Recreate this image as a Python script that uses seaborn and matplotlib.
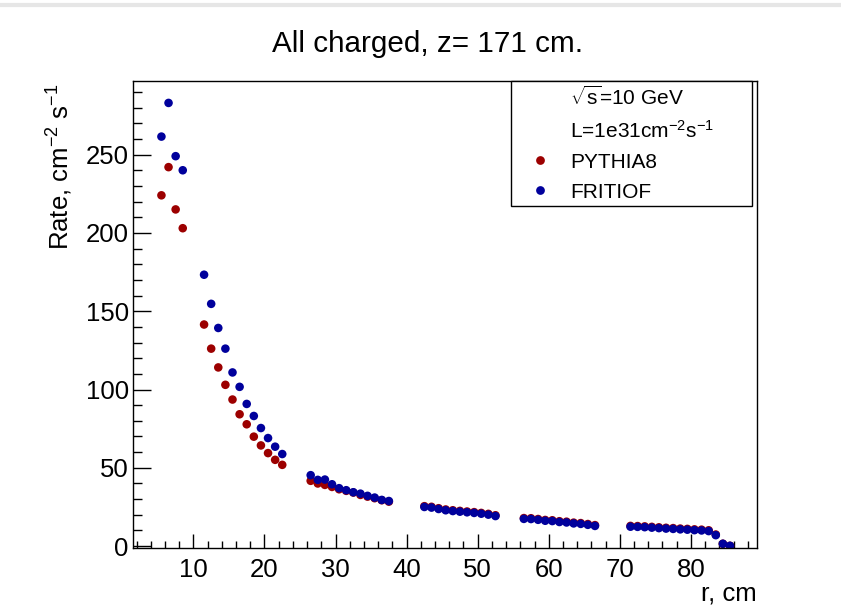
import numpy as np
import pandas as pd
import matplotlib
matplotlib.use("Agg")
import matplotlib.pyplot as plt
from matplotlib.lines import Line2D
from matplotlib.ticker import MultipleLocator
import seaborn as sns

# ---- data ----
r_cm = [5.5, 6.5, 7.5, 8.5,
        11.5, 12.5, 13.5, 14.5, 15.5, 16.5, 17.5, 18.5, 19.5, 20.5, 21.5, 22.5,
        26.5, 27.5, 28.5, 29.5, 30.5, 31.5, 32.5, 33.5, 34.5, 35.5, 36.5, 37.5,
        42.5, 43.5, 44.5, 45.5, 46.5, 47.5, 48.5, 49.5, 50.5, 51.5, 52.5,
        56.5, 57.5, 58.5, 59.5, 60.5, 61.5, 62.5, 63.5, 64.5, 65.5, 66.5,
        71.5, 72.5, 73.5, 74.5, 75.5, 76.5, 77.5, 78.5, 79.5, 80.5, 81.5, 82.5,
        83.5, 84.5, 85.5]

rate_pythia8 = [224, 242, 215, 203,
                141.5, 126.1, 114.1, 103.0, 93.6, 84.2, 77.8, 69.9, 64.3, 59.4, 55.1, 51.9,
                41.7, 40.0, 39.1, 37.8, 36.3, 35.3, 34.2, 32.7, 31.6, 30.6, 29.3, 28.4,
                25.5, 25.1, 24.2, 23.4, 22.9, 22.5, 22.1, 21.7, 21.2, 20.6, 19.7,
                17.9, 17.8, 17.3, 16.7, 16.5, 15.9, 15.6, 15.0, 14.7, 14.1, 13.4,
                12.9, 12.8, 12.6, 12.3, 12.0, 11.7, 11.5, 11.2, 11.0, 10.7, 10.5, 10.1,
                7.4, 1.5, 0.2]

rate_fritiof = [261.5, 283, 249, 240,
                173.3, 154.7, 139.3, 126.1, 110.9, 101.7, 90.8, 83.1, 75.4, 69.0, 63.5, 58.8,
                45.3, 42.3, 42.5, 39.5, 37.0, 35.7, 34.4, 33.5, 32.1, 31.0, 29.5, 28.8,
                25.0, 24.6, 23.7, 22.9, 22.4, 22.0, 21.6, 21.2, 20.7, 20.1, 19.2,
                17.4, 17.3, 16.8, 16.2, 16.0, 15.4, 15.1, 14.5, 14.2, 13.6, 12.9,
                12.4, 12.3, 12.1, 11.8, 11.5, 11.2, 11.0, 10.7, 10.5, 10.2, 10.0, 9.6,
                7.0, 1.5, 0.2]

models = ["PYTHIA8", "FRITIOF"]
colors = {"PYTHIA8": "#9c0000", "FRITIOF": "#00009c"}

df = pd.DataFrame({
    "r": r_cm + r_cm,
    "rate": rate_pythia8 + rate_fritiof,
    "model": ["PYTHIA8"] * len(r_cm) + ["FRITIOF"] * len(r_cm),
})

# ---- style ----
sns.set_theme(style="ticks")
plt.rcParams["font.family"] = ["Liberation Sans", "DejaVu Sans"]
plt.rcParams["mathtext.fontset"] = "custom"
plt.rcParams["mathtext.rm"] = "Liberation Sans"
plt.rcParams["mathtext.it"] = "Liberation Sans:italic"
plt.rcParams["mathtext.bf"] = "Liberation Sans:bold"
for k in ["text.color", "axes.labelcolor", "xtick.color", "ytick.color",
          "axes.edgecolor"]:
    plt.rcParams[k] = "black"

fig = plt.figure(figsize=(8.41, 6.16), dpi=100)
ax = fig.add_axes([133 / 841, 1 - 548 / 616, 624 / 841, 467 / 616])

sns.scatterplot(data=df, x="r", y="rate", hue="model", hue_order=models,
                palette=colors, s=38, edgecolor="none", linewidth=0,
                legend=False, ax=ax)

ax.set_xlim(1.5, 89.3)
ax.set_ylim(-1.2, 297)

ax.xaxis.set_major_locator(MultipleLocator(10))
ax.xaxis.set_minor_locator(MultipleLocator(2))
ax.yaxis.set_major_locator(MultipleLocator(50))
ax.yaxis.set_minor_locator(MultipleLocator(10))
ax.set_xticks([10, 20, 30, 40, 50, 60, 70, 80])

ax.tick_params(axis="both", which="both", direction="in", colors="black",
               labelsize=18.5, top=False, right=False, bottom=True, left=True)
ax.tick_params(axis="y", which="major", length=13, width=1, pad=3)
ax.tick_params(axis="y", which="minor", length=6.5, width=1)
ax.tick_params(axis="x", which="major", length=10, width=1, pad=7)
ax.tick_params(axis="x", which="minor", length=5, width=1)

for sp in ax.spines.values():
    sp.set_visible(True)
    sp.set_color("black")
    sp.set_linewidth(1.0)

ax.set_xlabel("r, cm", fontsize=18.5, loc="right", labelpad=0)
ax.set_ylabel(r"Rate, cm$^{\mathrm{-2}}$ s$^{\mathrm{-1}}$", fontsize=18.5, loc="top")
ax.yaxis.set_label_coords(-0.093, 0.995)

fig.text(428 / 841, 1 - 44 / 616, "All charged, z= 171 cm.", fontsize=21.3,
         ha="center", va="center")

# legend
handles = [
    Line2D([], [], linestyle="none", marker=None),
    Line2D([], [], linestyle="none", marker=None),
    Line2D([], [], linestyle="none", marker="o", markersize=6.3,
           markerfacecolor=colors["PYTHIA8"], markeredgecolor="none"),
    Line2D([], [], linestyle="none", marker="o", markersize=6.3,
           markerfacecolor=colors["FRITIOF"], markeredgecolor="none"),
]
labels = [r"$\sqrt{\mathrm{s}}$=10 GeV", r"L=1e31cm$^{\mathrm{-2}}$s$^{\mathrm{-1}}$",
          "PYTHIA8", "FRITIOF"]
leg = ax.legend(handles, labels, loc="upper left",
                bbox_to_anchor=(0.606, 0.728, 0.386, 0.272), mode="expand",
                borderaxespad=0, fontsize=15, frameon=True, fancybox=False,
                edgecolor="black", framealpha=1, borderpad=0.2,
                handlelength=2.36, handletextpad=0.27, labelspacing=0.53)
leg.get_frame().set_linewidth(1.0)

# faint screenshot border
fig.add_artist(Line2D([0, 1], [1 - 5 / 616, 1 - 5 / 616], color="#e6e6e6",
                      linewidth=3, transform=fig.transFigure))

fig.savefig("out.png", dpi=100)
